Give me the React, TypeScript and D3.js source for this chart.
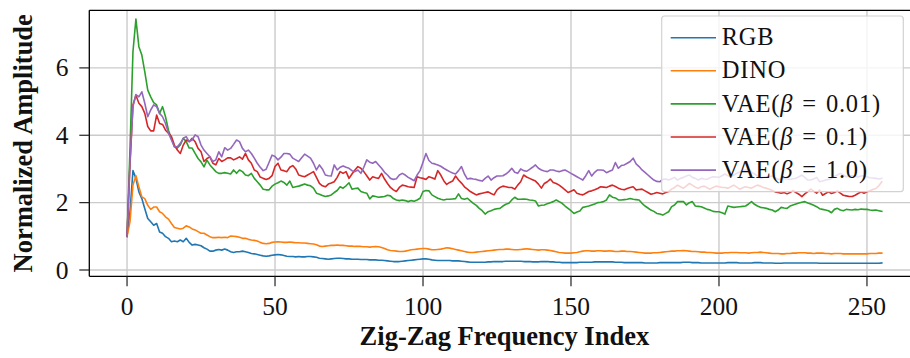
import React from 'react';
import * as d3 from 'd3';

// Normalized amplitude per zig-zag frequency index (0..255)
const rgb = [
  1.00, 1.73, 2.95, 2.72, 2.32, 2.12, 1.82, 1.53, 1.43, 1.33,
  1.38, 1.13, 1.09, 0.99, 0.94, 0.84, 0.86, 0.84, 0.89, 0.84,
  0.94, 0.82, 0.74, 0.76, 0.74, 0.72, 0.66, 0.62, 0.56, 0.56,
  0.59, 0.61, 0.59, 0.62, 0.59, 0.54, 0.52, 0.54, 0.54, 0.56,
  0.54, 0.52, 0.49, 0.48, 0.46, 0.44, 0.42, 0.41, 0.42, 0.44,
  0.45, 0.46, 0.45, 0.43, 0.41, 0.40, 0.40, 0.39, 0.40, 0.39,
  0.39, 0.40, 0.40, 0.39, 0.38, 0.35, 0.34, 0.33, 0.32, 0.33,
  0.34, 0.35, 0.35, 0.34, 0.33, 0.33, 0.32, 0.32, 0.32, 0.31,
  0.31, 0.31, 0.30, 0.30, 0.30, 0.29, 0.29, 0.28, 0.27, 0.26,
  0.25, 0.25, 0.25, 0.26, 0.27, 0.28, 0.29, 0.30, 0.31, 0.32,
  0.33, 0.33, 0.32, 0.30, 0.29, 0.28, 0.28, 0.28, 0.28, 0.28,
  0.27, 0.27, 0.27, 0.26, 0.25, 0.24, 0.23, 0.23, 0.23, 0.23,
  0.23, 0.23, 0.24, 0.24, 0.25, 0.25, 0.25, 0.25, 0.26, 0.26,
  0.26, 0.26, 0.26, 0.26, 0.25, 0.25, 0.25, 0.24, 0.24, 0.24,
  0.25, 0.25, 0.25, 0.24, 0.24, 0.23, 0.23, 0.22, 0.22, 0.22,
  0.22, 0.22, 0.22, 0.23, 0.23, 0.23, 0.23, 0.23, 0.24, 0.24,
  0.24, 0.24, 0.24, 0.24, 0.24, 0.23, 0.23, 0.23, 0.22, 0.22,
  0.22, 0.22, 0.22, 0.22, 0.22, 0.21, 0.21, 0.21, 0.21, 0.21,
  0.22, 0.22, 0.22, 0.22, 0.22, 0.22, 0.22, 0.22, 0.23, 0.23,
  0.23, 0.22, 0.22, 0.22, 0.21, 0.21, 0.21, 0.21, 0.21, 0.21,
  0.21, 0.21, 0.21, 0.22, 0.22, 0.22, 0.22, 0.21, 0.21, 0.21,
  0.21, 0.21, 0.22, 0.22, 0.22, 0.21, 0.21, 0.21, 0.21, 0.20,
  0.20, 0.20, 0.21, 0.21, 0.21, 0.21, 0.21, 0.21, 0.21, 0.21,
  0.21, 0.21, 0.21, 0.21, 0.20, 0.20, 0.20, 0.20, 0.20, 0.20,
  0.20, 0.20, 0.20, 0.20, 0.20, 0.20, 0.20, 0.20, 0.20, 0.20,
  0.20, 0.20, 0.20, 0.20, 0.20, 0.21,
];

const dino = [
  1.00, 1.43, 2.52, 2.80, 2.47, 2.17, 2.12, 1.92, 1.80, 1.87,
  1.87, 1.73, 1.68, 1.58, 1.51, 1.38, 1.26, 1.24, 1.22, 1.24,
  1.31, 1.28, 1.22, 1.19, 1.14, 1.09, 1.09, 1.04, 0.99, 0.96,
  0.96, 0.97, 0.96, 0.97, 0.96, 1.01, 1.00, 0.99, 0.97, 0.94,
  0.94, 0.91, 0.89, 0.88, 0.86, 0.82, 0.79, 0.78, 0.79, 0.82,
  0.83, 0.84, 0.83, 0.82, 0.82, 0.83, 0.82, 0.81, 0.81, 0.80,
  0.80, 0.79, 0.78, 0.77, 0.75, 0.71, 0.70, 0.71, 0.72, 0.73,
  0.73, 0.74, 0.73, 0.73, 0.72, 0.71, 0.71, 0.70, 0.70, 0.70,
  0.69, 0.69, 0.68, 0.69, 0.70, 0.69, 0.67, 0.64, 0.60, 0.58,
  0.57, 0.56, 0.55, 0.55, 0.56, 0.58, 0.60, 0.61, 0.62, 0.63,
  0.64, 0.64, 0.62, 0.60, 0.60, 0.61, 0.62, 0.64, 0.66, 0.65,
  0.63, 0.61, 0.59, 0.57, 0.55, 0.53, 0.52, 0.52, 0.53, 0.54,
  0.55, 0.56, 0.57, 0.58, 0.59, 0.60, 0.61, 0.61, 0.62, 0.62,
  0.61, 0.60, 0.60, 0.61, 0.62, 0.63, 0.62, 0.61, 0.60, 0.59,
  0.60, 0.60, 0.59, 0.58, 0.56, 0.54, 0.52, 0.51, 0.50, 0.50,
  0.50, 0.51, 0.52, 0.54, 0.56, 0.57, 0.57, 0.56, 0.56, 0.57,
  0.57, 0.56, 0.56, 0.57, 0.56, 0.55, 0.55, 0.56, 0.56, 0.55,
  0.55, 0.54, 0.53, 0.52, 0.51, 0.50, 0.50, 0.50, 0.51, 0.51,
  0.52, 0.53, 0.54, 0.55, 0.56, 0.56, 0.57, 0.57, 0.58, 0.57,
  0.56, 0.55, 0.55, 0.54, 0.53, 0.53, 0.52, 0.52, 0.51, 0.50,
  0.50, 0.50, 0.51, 0.51, 0.52, 0.52, 0.52, 0.51, 0.51, 0.51,
  0.50, 0.51, 0.52, 0.52, 0.53, 0.52, 0.51, 0.50, 0.49, 0.49,
  0.49, 0.48, 0.48, 0.49, 0.49, 0.50, 0.50, 0.51, 0.51, 0.51,
  0.50, 0.50, 0.49, 0.50, 0.50, 0.50, 0.49, 0.49, 0.48, 0.49,
  0.49, 0.49, 0.48, 0.48, 0.48, 0.48, 0.48, 0.48, 0.48, 0.48,
  0.48, 0.49, 0.49, 0.49, 0.50, 0.50,
];

const vae001 = [
  1.00, 3.60, 6.48, 7.45, 6.63, 6.38, 5.88, 5.34, 5.14, 4.97,
  4.90, 4.65, 4.85, 4.55, 4.15, 3.91, 3.66, 3.62, 3.71, 3.91,
  3.81, 3.62, 3.62, 3.46, 3.31, 3.21, 3.06, 3.26, 3.12, 3.02,
  2.92, 2.87, 2.87, 2.89, 2.87, 2.85, 2.97, 2.87, 2.97, 2.92,
  2.82, 2.80, 2.87, 2.72, 2.62, 2.52, 2.40, 2.38, 2.38, 2.49,
  2.55, 2.59, 2.64, 2.60, 2.52, 2.64, 2.45, 2.47, 2.49, 2.52,
  2.55, 2.52, 2.50, 2.43, 2.28, 2.25, 2.21, 2.18, 2.20, 2.23,
  2.30, 2.36, 2.47, 2.43, 2.50, 2.59, 2.40, 2.42, 2.43, 2.33,
  2.30, 2.28, 2.11, 2.20, 2.18, 2.16, 2.17, 2.18, 2.22, 2.20,
  2.12, 2.08, 2.06, 2.08, 2.06, 2.03, 2.06, 2.04, 2.08, 2.13,
  2.33, 2.36, 2.35, 2.23, 2.18, 2.13, 2.10, 2.08, 2.10, 2.10,
  2.11, 2.12, 2.26, 2.12, 2.10, 2.13, 2.05, 1.98, 1.92, 1.83,
  1.76, 1.66, 1.73, 1.76, 1.80, 1.82, 1.83, 1.90, 1.95, 1.98,
  2.08, 2.16, 2.10, 2.10, 2.11, 2.10, 2.08, 2.07, 2.05, 1.90,
  1.92, 1.93, 1.97, 2.00, 2.03, 2.08, 2.03, 1.98, 1.90, 1.83,
  1.76, 1.68, 1.72, 1.75, 1.86, 1.88, 1.90, 1.93, 1.96, 2.00,
  2.01, 2.03, 2.08, 2.23, 2.16, 2.14, 2.08, 2.08, 2.09, 2.10,
  2.12, 2.10, 2.09, 2.08, 1.98, 1.90, 1.84, 1.78, 1.74, 1.68,
  1.66, 1.63, 1.68, 1.73, 1.88, 1.93, 2.03, 2.03, 2.03, 1.93,
  2.00, 2.03, 1.90, 1.89, 1.88, 1.84, 1.80, 1.78, 1.74, 1.73,
  1.73, 1.70, 1.66, 1.90, 1.88, 1.86, 1.87, 1.88, 1.89, 1.90,
  1.96, 2.03, 1.95, 1.90, 1.86, 1.85, 1.83, 1.80, 1.78, 1.73,
  1.78, 1.86, 1.84, 1.83, 1.90, 1.93, 1.96, 1.99, 2.01, 2.03,
  1.99, 1.96, 1.92, 1.88, 1.82, 1.80, 1.78, 1.76, 1.70, 1.80,
  1.83, 1.78, 1.76, 1.80, 1.79, 1.78, 1.80, 1.79, 1.81, 1.80,
  1.80, 1.78, 1.77, 1.78, 1.76, 1.74,
];

const vae01 = [
  1.00, 3.12, 4.90, 5.19, 4.95, 4.85, 4.65, 4.26, 4.13, 4.13,
  4.60, 4.35, 4.32, 4.15, 4.06, 3.96, 3.71, 3.56, 3.46, 3.71,
  3.86, 3.81, 3.91, 3.81, 3.61, 3.51, 3.22, 3.31, 3.36, 3.17,
  3.12, 3.31, 3.22, 3.27, 3.33, 3.33, 3.27, 3.31, 3.36, 3.29,
  3.46, 3.27, 3.17, 2.97, 2.92, 2.76, 2.72, 2.69, 2.72, 2.80,
  3.07, 3.17, 2.97, 2.95, 2.92, 3.05, 3.10, 3.00, 2.82, 2.79,
  2.77, 2.82, 2.87, 2.92, 2.75, 2.57, 2.50, 2.47, 2.55, 2.58,
  2.62, 2.75, 2.92, 2.87, 2.92, 2.72, 2.85, 2.97, 3.07, 3.02,
  2.92, 2.80, 2.67, 2.77, 2.74, 2.72, 2.87, 2.70, 2.57, 2.45,
  2.38, 2.33, 2.45, 2.52, 2.50, 2.47, 2.46, 2.45, 2.77, 2.74,
  2.72, 2.69, 2.77, 2.74, 2.70, 2.95, 2.82, 2.65, 2.54, 2.60,
  2.64, 2.79, 2.67, 2.58, 2.47, 2.40, 2.33, 2.28, 2.23, 2.26,
  2.28, 2.30, 2.32, 2.27, 2.23, 2.38, 2.45, 2.49, 2.47, 2.45,
  2.45, 2.40, 2.52, 2.62, 2.82, 2.76, 2.72, 2.68, 2.64, 2.55,
  2.43, 2.57, 2.62, 2.70, 2.60, 2.57, 2.52, 2.45, 2.38, 2.30,
  2.34, 2.38, 2.28, 2.25, 2.23, 2.28, 2.33, 2.35, 2.38, 2.42,
  2.47, 2.46, 2.45, 2.49, 2.52, 2.48, 2.43, 2.40, 2.38, 2.42,
  2.45, 2.47, 2.38, 2.39, 2.40, 2.35, 2.30, 2.25, 2.27, 2.30,
  2.28, 2.26, 2.30, 2.33, 2.40, 2.45, 2.52, 2.47, 2.43, 2.50,
  2.57, 2.52, 2.46, 2.43, 2.47, 2.49, 2.44, 2.40, 2.45, 2.49,
  2.47, 2.45, 2.45, 2.43, 2.47, 2.52, 2.46, 2.40, 2.44, 2.47,
  2.45, 2.43, 2.48, 2.52, 2.49, 2.45, 2.43, 2.40, 2.36, 2.32,
  2.30, 2.28, 2.30, 2.26, 2.30, 2.36, 2.30, 2.25, 2.18, 2.26,
  2.33, 2.40, 2.34, 2.28, 2.37, 2.22, 2.27, 2.32, 2.27, 2.30,
  2.35, 2.28, 2.22, 2.20, 2.18, 2.18, 2.22, 2.27, 2.32, 2.28,
  2.32, 2.35, 2.39, 2.42, 2.50, 2.62,
];

const vae10 = [
  1.00, 3.22, 4.85, 5.21, 5.14, 5.29, 4.95, 4.55, 4.75, 4.90,
  4.85, 4.65, 4.55, 4.35, 4.06, 3.86, 3.66, 3.66, 3.76, 3.91,
  3.96, 3.81, 3.86, 4.01, 3.96, 3.71, 3.56, 3.46, 3.36, 3.22,
  3.27, 3.51, 3.36, 3.63, 3.56, 3.61, 3.73, 3.86, 3.81, 3.61,
  3.51, 3.56, 3.46, 3.32, 3.17, 3.05, 2.95, 2.99, 3.20, 3.41,
  3.37, 3.27, 3.35, 3.46, 3.46, 3.44, 3.32, 3.27, 3.22, 3.33,
  3.44, 3.38, 3.32, 3.17, 2.97, 3.12, 3.00, 2.82, 2.80, 2.79,
  3.12, 2.97, 3.05, 3.09, 3.05, 3.02, 2.95, 2.92, 2.97, 2.87,
  3.05, 3.27, 3.20, 3.17, 3.22, 3.12, 3.02, 2.90, 2.82, 2.72,
  2.69, 2.71, 2.82, 2.87, 2.82, 2.75, 2.70, 2.65, 2.82, 2.95,
  3.20, 3.46, 3.25, 3.17, 3.15, 3.12, 3.08, 3.02, 2.97, 2.92,
  2.88, 2.85, 2.95, 3.07, 2.85, 2.70, 2.72, 2.70, 2.69, 2.66,
  2.64, 2.72, 2.79, 2.67, 2.74, 2.79, 2.79, 2.80, 2.85, 2.92,
  3.02, 2.90, 2.87, 3.00, 2.95, 2.93, 2.99, 3.05, 3.12, 3.02,
  2.97, 2.94, 2.92, 2.97, 2.97, 2.94, 2.92, 2.95, 2.97, 2.92,
  2.87, 2.82, 2.77, 2.72, 2.67, 2.80, 2.95, 2.79, 2.90, 2.97,
  2.97, 2.96, 2.89, 2.93, 2.97, 3.19, 3.02, 3.10, 3.12, 3.17,
  3.22, 3.32, 3.15, 3.07, 2.97, 2.90, 2.82, 2.74, 2.67, 2.63,
  2.62, 2.69, 2.70, 2.67, 2.71, 2.75, 2.67, 2.72, 2.75, 2.79,
  2.82, 2.75, 2.72, 2.67, 2.72, 2.70, 2.69, 2.74, 2.77, 2.76,
  2.75, 2.80, 2.85, 2.80, 2.77, 2.82, 2.87, 2.91, 2.95, 2.97,
  2.97, 2.90, 2.85, 2.79, 2.72, 2.75, 2.77, 2.78, 2.79, 2.74,
  2.69, 2.71, 2.72, 2.70, 2.69, 2.71, 2.72, 2.77, 2.82, 2.75,
  2.67, 2.67, 2.70, 2.75, 2.62, 2.64, 2.67, 2.69, 2.72, 2.78,
  2.82, 2.87, 2.82, 2.77, 2.79, 2.80, 2.78, 2.76, 2.79, 2.80,
  2.77, 2.74, 2.73, 2.72, 2.70, 2.72,
];

// Legend labels: plain names, and the β value for the VAE variants
const seriesNames = ['RGB', 'DINO', 'VAE', 'VAE', 'VAE'];
const betaLabels = ['', '', '0.01', '0.1', '1.0'];
const seriesColors = ['#1f77b4', '#ff7f0e', '#2ca02c', '#d62728', '#9467bd'];

const xTicks = [0, 50, 100, 150, 200, 250];
const yTicks = [0, 2, 4, 6];

const xLabel = 'Zig-Zag Frequency Index';
const yLabel = 'Normalized Amplitude';

const W = 910;
const H = 358;
const plot = { left: 89.3, right: 919.5, top: 10.3, bottom: 276.3 };
const FONT = '"Liberation Serif", "Times New Roman", serif';

export default function App() {
  const allSeries = [rgb, dino, vae001, vae01, vae10];

  const x = d3.scaleLinear().domain([-12.75, 267.75]).range([plot.left, plot.right]);
  const y = d3.scaleLinear().domain([-0.187, 7.71]).range([plot.bottom, plot.top]);

  const line = d3
    .line<number>()
    .x((_, i) => x(i))
    .y((d) => y(d));

  const legend = { x: 661.7, y: 16, w: 241.6, h: 175.7 };
  const rowY = (i: number) => 37.7 + i * 33.1;

  return (
    <svg
      width={W}
      height={H}
      viewBox={`0 0 ${W} ${H}`}
      style={{ position: 'absolute', left: 0, top: 0, display: 'block', background: '#fff' }}
      fontFamily={FONT}
    >
      <defs>
        <clipPath id="plot-area">
          <rect x={plot.left} y={plot.top} width={plot.right - plot.left} height={plot.bottom - plot.top} />
        </clipPath>
      </defs>

      {/* grid */}
      <g stroke="#cbcbcb" strokeWidth={1.4}>
        {xTicks.map((t) => (
          <line key={`gx${t}`} x1={x(t)} x2={x(t)} y1={plot.top} y2={plot.bottom} />
        ))}
        {yTicks.map((t) => (
          <line key={`gy${t}`} x1={plot.left} x2={plot.right} y1={y(t)} y2={y(t)} />
        ))}
      </g>

      {/* series */}
      <g clipPath="url(#plot-area)" fill="none" strokeWidth={1.6} strokeLinejoin="round" strokeLinecap="square">
        {allSeries.map((s, i) => (
          <path key={i} d={line(s) ?? ''} stroke={seriesColors[i]} />
        ))}
      </g>

      {/* spines */}
      <g stroke="#000" strokeWidth={1.3} fill="none">
        <line x1={plot.left} x2={plot.right} y1={plot.top} y2={plot.top} />
        <line x1={plot.left} x2={plot.right} y1={plot.bottom} y2={plot.bottom} />
        <line x1={plot.left} x2={plot.left} y1={plot.top} y2={plot.bottom} />
        <line x1={plot.right} x2={plot.right} y1={plot.top} y2={plot.bottom} />
      </g>

      {/* x axis ticks */}
      <g>
        {xTicks.map((t) => (
          <g key={`xt${t}`}>
            <line x1={x(t)} x2={x(t)} y1={plot.bottom} y2={plot.bottom + 10} stroke="#222" strokeWidth={1.2} />
            <text x={x(t)} y={315} textAnchor="middle" fontSize={25.5} fill="#111">
              {t}
            </text>
          </g>
        ))}
      </g>

      {/* y axis ticks */}
      <g>
        {yTicks.map((t) => (
          <g key={`yt${t}`}>
            <line x1={plot.left - 10} x2={plot.left} y1={y(t)} y2={y(t)} stroke="#222" strokeWidth={1.2} />
            <text x={68.5} y={y(t) + 8.6} textAnchor="end" fontSize={25.5} fill="#111">
              {t}
            </text>
          </g>
        ))}
      </g>

      {/* axis labels */}
      <text x={(plot.left + plot.right) / 2} y={345} textAnchor="middle" fontSize={26.5} fontWeight="bold" fill="#111">
        {xLabel}
      </text>
      <text
        transform={`translate(32.3, ${(plot.top + plot.bottom) / 2}) rotate(-90)`}
        textAnchor="middle"
        fontSize={26.5}
        fontWeight="bold"
        fill="#111"
      >
        {yLabel}
      </text>

      {/* legend */}
      <g>
        <rect
          x={legend.x}
          y={legend.y}
          width={legend.w}
          height={legend.h}
          rx={3}
          fill="#fff"
          fillOpacity={0.8}
          stroke="#d2d2d2"
          strokeWidth={1.2}
        />
        {seriesNames.map((name, i) => (
          <g key={`lg${i}`}>
            <line x1={670.7} x2={716} y1={rowY(i)} y2={rowY(i)} stroke={seriesColors[i]} strokeWidth={1.6} />
            <text x={721.7} y={rowY(i) + 7.6} fontSize={24.5} letterSpacing={0.8} fill="#111">
              {betaLabels[i] ? (
                <>
                  <tspan>{name}(</tspan>
                  <tspan fontStyle="italic">β</tspan>
                  <tspan dx={9}>=</tspan>
                  <tspan dx={9}>{betaLabels[i]})</tspan>
                </>
              ) : (
                name
              )}
            </text>
          </g>
        ))}
      </g>
    </svg>
  );
}
